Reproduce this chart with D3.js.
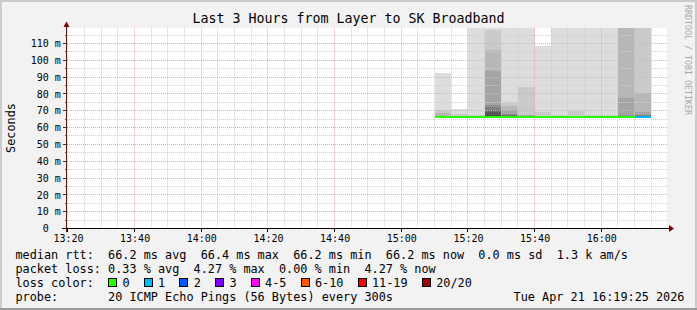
<!DOCTYPE html>
<html><head><meta charset="utf-8">
<script src="https://cdn.jsdelivr.net/npm/d3@7"></script>
<style>
html,body{margin:0;padding:0;background:#f2f2f2}
svg{display:block}
text{font-family:"DejaVu Sans Mono",monospace;fill:#000}
</style>
</head><body>
<svg id="chart" width="697" height="310"></svg>
<script>
// ---------- data ----------
const titleText = "Last 3 Hours from Layer to SK Broadband";
const rangeStart = "2026-04-21 13:19:25";
const rangeEnd = "2026-04-21 16:19:25";
const stepMinutes = 5;
// end time of each 5-minute sample
const sampleEnds = ["15:15","15:20","15:25","15:30","15:35","15:40","15:45","15:50","15:55","16:00","16:05","16:10","16:15"];
// median rtt (ms) per sample
const medians = [66.2,66.2,66.2,66.4,66.2,66.2,66.2,66.2,66.2,66.2,66.2,66.2,66.2];
// lost pings (of 20) per sample
const losses = [0,0,0,0,0,0,0,0,0,0,0,0,1];
// 20 sorted ping rtts (ms) per sample, null = lost
const pings = [
  [65.7,65.8,65.9,65.9,66.0,66.0,66.1,66.1,66.2,66.2, 66.2,66.3,66.4,66.5,66.6,66.8,67.0,68.7,70.7,92.7],
  [65.7,65.8,65.9,65.9,66.0,66.0,66.1,66.1,66.2,66.2, 66.2,66.3,66.3,66.4,66.5,66.6,66.8,67.0,68.0,71.3],
  [65.7,65.8,65.9,65.9,66.0,66.0,66.1,66.1,66.2,66.2, 66.3,66.4,66.5,66.6,66.7,66.8,66.9,67.0,67.3,128.0],
  [65.7,65.8,65.9,65.9,66.0,66.0,66.1,66.1,66.2,66.2, 66.6,67.5,69.0,70.7,72.0,73.5,93.8,106.0,118.3,135.0],
  [65.7,65.8,65.9,65.9,66.0,66.0,66.1,66.1,66.2,66.2, 66.3,66.5,66.8,67.2,67.6,68.2,70.3,72.8,75.2,124.0],
  [65.7,65.8,65.9,65.9,66.0,66.0,66.1,66.1,66.2,66.2, 66.3,66.4,66.5,66.6,66.7,66.9,67.2,67.6,84.2,121.0],
  [65.7,65.8,65.9,65.9,66.0,66.0,66.1,66.1,66.2,66.2, 66.2,66.3,66.4,66.5,66.6,66.7,66.8,67.0,69.3,108.6],
  [65.7,65.8,65.9,65.9,66.0,66.0,66.1,66.1,66.2,66.2, 66.2,66.3,66.4,66.5,66.6,66.7,66.8,66.9,67.2,125.0],
  [65.7,65.8,65.9,65.9,66.0,66.0,66.1,66.1,66.2,66.2, 66.2,66.3,66.4,66.5,66.6,66.7,66.8,67.0,69.8,122.0],
  [65.7,65.8,65.9,65.9,66.0,66.0,66.1,66.1,66.2,66.2, 66.2,66.3,66.4,66.5,66.6,66.7,66.8,67.0,67.6,126.0],
  [65.7,65.8,65.9,65.9,66.0,66.0,66.1,66.1,66.2,66.2, 66.2,66.3,66.4,66.5,66.6,66.7,66.8,66.9,67.4,123.0],
  [65.7,65.8,65.9,65.9,66.0,66.0,66.1,66.1,66.2,66.2, 66.2,66.4,66.6,66.8,67.0,67.3,77.6,124.0,131.0,140.0],
  [null,65.8,65.9,65.9,66.0,66.0,66.1,66.1,66.2,66.2, 66.3,66.5,66.7,66.9,67.2,67.6,69.3,80.6,122.0,130.0]
];
const yMaxMs = 118.9;
const yMajorTicks = [10,20,30,40,50,60,70,80,90,100,110];
const yLabelTicks = [0,10,20,30,40,50,60,70,80,90,100,110];
const yMinorTicks = [5,15,25,35,45,55,65,75,85,95,105,115];
const lossLabels = ["0","1","2","3","4-5","6-10","11-19","20/20"];
const lossColors = ["#26ff00","#00b8ff","#0059ff","#7e00ff","#ff00ff","#ff5500","#ff0000","#a00000"];
const smokeShades = ["#dddddd","#cacaca","#b7b7b7","#a4a4a4","#919191","#7e7e7e","#6b6b6b","#585858","#454545","#323232"];
const legendRows = [
  "median rtt:  66.2 ms avg  66.4 ms max  66.2 ms min  66.2 ms now  0.0 ms sd  1.3 k am/s",
  "packet loss: 0.33 % avg  4.27 % max  0.00 % min  4.27 % now",
  "loss color:",
  "probe:       20 ICMP Echo Pings (56 Bytes) every 300s"
];
const dateStamp = "Tue Apr 21 16:19:25 2026";
const yAxisTitle = "Seconds";
const sideText = "RRDTOOL / TOBI OETIKER";

// ---------- layout ----------
const W = 697, H = 310;
const plotL = 66, plotR = 666, plotT = 28.5, plotB = 228.5;
const svg = d3.select("#chart");
const parseFull = d3.timeParse("%Y-%m-%d %H:%M:%S");
const parseHM = d3.timeParse("%Y-%m-%d %H:%M");
const t0 = parseFull(rangeStart), t1 = parseFull(rangeEnd);
const x = d3.scaleTime().domain([t0, t1]).range([plotL, plotR]);
const y = d3.scaleLinear().domain([0, yMaxMs]).range([plotB, plotT]);
const snap = v => Math.round(v - 0.5) + 0.5;

// frame
svg.append("rect").attr("width", W).attr("height", H).attr("fill", "#f2f2f2");
svg.append("path").attr("d", `M1,${H} V1 H${W-1} V${H}`).attr("fill","none").attr("stroke","#cbcbcb").attr("stroke-width",2);
svg.append("path").attr("d", `M0,${H-1} H${W}`).attr("fill","none").attr("stroke","#9a9a9a").attr("stroke-width",2);

// canvas
svg.append("rect").attr("x", plotL).attr("y", 28).attr("width", plotR - plotL + 1).attr("height", 200).attr("fill", "#ffffff");

svg.append("clipPath").attr("id","clip").append("rect")
  .attr("x", plotL).attr("y", 28).attr("width", plotR - plotL + 1).attr("height", 200.5);

// smoke
const day = rangeStart.slice(0, 10);
const cols = sampleEnds.map((e, i) => {
  const te = parseHM(day + " " + e);
  const ts = d3.timeMinute.offset(te, -stepMinutes);
  return { i, x0: x(ts), x1: x(te), p: pings[i], med: medians[i], loss: losses[i] };
});
const smokeRects = [];
cols.forEach(c => {
  for (let k = 0; k < 10; k++) {
    const lo = c.p[k], hi = c.p[19 - k];
    if (lo == null || hi == null) continue;
    smokeRects.push({ x0: c.x0, x1: c.x1, lo, hi, k });
  }
});
svg.append("g").attr("clip-path","url(#clip)").attr("shape-rendering","crispEdges")
  .selectAll("rect").data(smokeRects).join("rect")
  .attr("x", d => Math.round(d.x0)).attr("width", d => Math.round(d.x1) - Math.round(d.x0))
  .attr("y", d => y(d.hi)).attr("height", d => y(d.lo) - y(d.hi))
  .attr("fill", d => smokeShades[d.k]);

// grid
const grid = svg.append("g").attr("fill","none").attr("stroke-width",1).attr("stroke-dasharray","1,1");
const xMinor = d3.timeMinute.every(5).range(t0, t1).filter(t => t.getMinutes() % 20 !== 0);
const xMajor = d3.timeMinute.every(20).range(t0, t1);
const minorCol = "#cfcfcf", majorCol = "#f2a6a6";
grid.selectAll(".vmin").data(xMinor).join("line")
  .attr("x1", d => snap(x(d))).attr("x2", d => snap(x(d)))
  .attr("y1", plotB - 1).attr("y2", 27).attr("stroke", minorCol);
grid.selectAll(".hmin").data(yMinorTicks).join("line")
  .attr("x1", plotL + 1).attr("x2", 668).attr("y1", d => snap(y(d))).attr("y2", d => snap(y(d)))
  .attr("stroke", minorCol);
grid.selectAll(".vmaj").data(xMajor).join("line")
  .attr("x1", d => snap(x(d))).attr("x2", d => snap(x(d)))
  .attr("y1", plotB - 1).attr("y2", 27).attr("stroke", majorCol);
grid.selectAll(".hmaj").data(yMajorTicks).join("line")
  .attr("x1", plotL + 1).attr("x2", 668).attr("y1", d => snap(y(d))).attr("y2", d => snap(y(d)))
  .attr("stroke", majorCol);

// median line coloured by loss
svg.append("g").attr("shape-rendering","crispEdges")
  .selectAll("line").data(cols).join("line")
  .attr("x1", d => Math.round(d.x0)).attr("x2", d => Math.round(d.x1))
  .attr("y1", d => y(d.med)).attr("y2", d => y(d.med))
  .attr("stroke", d => {
    const l = d.loss;
    const idx = l === 0 ? 0 : l === 1 ? 1 : l === 2 ? 2 : l === 3 ? 3 : l <= 5 ? 4 : l <= 10 ? 5 : l <= 19 ? 6 : 7;
    return lossColors[idx];
  })
  .attr("stroke-width", 2);

// axes
const ax = svg.append("g").attr("shape-rendering","crispEdges");
ax.append("line").attr("x1", 62).attr("x2", 669).attr("y1", plotB).attr("y2", plotB).attr("stroke","#000");
ax.append("line").attr("x1", plotL + 0.5).attr("x2", plotL + 0.5).attr("y1", 232).attr("y2", 25).attr("stroke","#5a1a1a");
// y ticks
ax.selectAll(".yt").data(yMajorTicks).join("line")
  .attr("x1", 63).attr("x2", plotL).attr("y1", d => snap(y(d))).attr("y2", d => snap(y(d))).attr("stroke","#333");
ax.selectAll(".ytm").data(yMinorTicks).join("line")
  .attr("x1", 64.5).attr("x2", plotL).attr("y1", d => snap(y(d))).attr("y2", d => snap(y(d))).attr("stroke","#666");
// x ticks
ax.selectAll(".xt").data(xMajor).join("line")
  .attr("x1", d => snap(x(d))).attr("x2", d => snap(x(d))).attr("y1", plotB).attr("y2", 231.5).attr("stroke","#000");
// arrows
svg.append("path").attr("d", `M669,225 L674,${plotB} L669,232 Z`).attr("fill","#7f0000");
svg.append("path").attr("d", `M${plotL - 2.5},27 L${plotL + 0.5},21.5 L${plotL + 3.5},27 Z`).attr("fill","#7f0000");

// tick labels
const charAx = 10 * 0.602;
svg.append("g").selectAll("text").data(yLabelTicks).join("text")
  .attr("x", d => d === 0 ? 60.8 - 2 * charAx : 60.8)
  .attr("y", d => y(d) + 3.7)
  .attr("text-anchor","end").attr("font-size", 10)
  .text(d => d === 0 ? "0" : d + " m");
svg.append("g").selectAll("text").data(xMajor).join("text")
  .attr("x", d => x(d) + 0.5).attr("y", 241.5)
  .attr("text-anchor","middle").attr("font-size", 10)
  .text(d3.timeFormat("%H:%M"));

// title
svg.append("text").attr("x", 348.5).attr("y", 23).attr("text-anchor","middle")
  .attr("font-size", 13.3).text(titleText);
// y axis title
svg.append("text").attr("transform", "translate(15.3,128) rotate(-90)")
  .attr("text-anchor","middle").attr("font-size", 11.84).text(yAxisTitle);
// side text
svg.append("text").attr("transform", "translate(684.5,5) rotate(90)")
  .attr("font-size", 8.3).style("fill","#a8a8a8").text(sideText);

// legend
const lx = 15.5, cw = 7.13, fs = 11.84;
const baselines = [258.5, 272.5, 286.5, 300.5];
const lg = svg.append("g").attr("font-size", fs);
lg.selectAll("text.row").data(legendRows).join("text")
  .attr("x", lx).attr("y", (d, i) => baselines[i])
  .attr("xml:space","preserve").style("white-space","pre")
  .text(d => d);
lg.append("text").attr("x", 684.5).attr("y", baselines[3]).attr("text-anchor","end").text(dateStamp);
// loss color boxes
let pos = 13;
const items = lossLabels.map((lab, i) => {
  const it = { lab, col: lossColors[i], pos };
  pos += 2 + lab.length + 2;
  return it;
});
const li = lg.selectAll("g.item").data(items).join("g");
li.append("rect").attr("x", d => lx + d.pos * cw + 0.5).attr("y", 278.5)
  .attr("width", 8).attr("height", 8).attr("fill", d => d.col)
  .attr("stroke","#000").attr("stroke-width",1).attr("shape-rendering","crispEdges");
li.append("text").attr("x", d => lx + (d.pos + 2) * cw).attr("y", baselines[2]).text(d => d.lab);
</script>
</body></html>
